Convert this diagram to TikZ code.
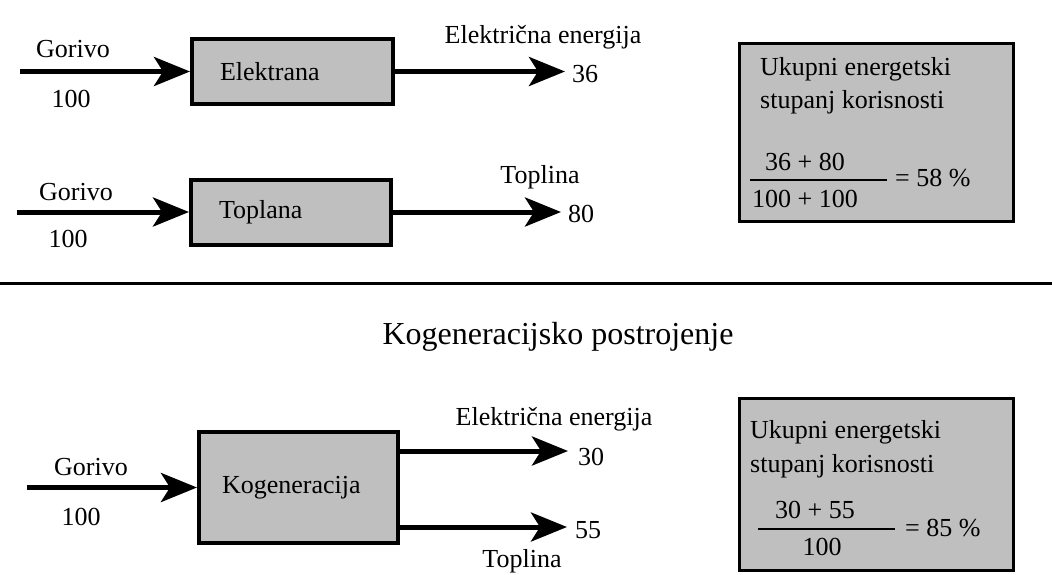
\documentclass[tikz,border=0pt]{standalone}
\usepackage{fontspec}
\setmainfont{Liberation Serif}
\usetikzlibrary{arrows.meta}
\definecolor{blokgrey}{HTML}{BFBFBF}

\begin{document}
\begin{tikzpicture}[x=1pt,y=-1pt,
  oznaka/.style={inner sep=0pt,font=\fontsize{26}{31}\selectfont},
  blok/.style={draw,line width=4pt,fill=blokgrey,align=left,inner ysep=0pt,font=\fontsize{26}{31}\selectfont},
  okvir/.style={draw,line width=3pt,fill=blokgrey,inner sep=0pt},
  tok/.style={line width=5pt,-{Stealth[length=36pt,width=29pt,inset=9pt]}}]
\useasboundingbox (0,0) rectangle (1052,574);
\node[blok,inner xsep=28pt,text width=145pt,minimum height=65pt] (elek) at (292.5,71.5) {Elektrana};
\node[blok,inner xsep=28pt,text width=144pt,minimum height=65pt] (topl) at (291,212) {Toplana};
\node[blok,inner xsep=23pt,text width=153pt,minimum height=111pt] (kog) at (298.5,487.5) {Kogeneracija};
\coordinate (p1) at (20,71.5);
\coordinate (p2) at (17,212);
\coordinate (p3) at (27,487.5);
\draw[tok] (p1) -- (elek.west);
\draw[tok] (p2) -- (topl.west);
\draw[tok] (p3) -- (kog.west);
\coordinate (k36) at (565,71.5);
\coordinate (k80) at (561,212);
\coordinate (k30) at (568,451);
\coordinate (k55) at (567,527);
\draw[tok] (elek.east) -- (k36);
\draw[tok] (topl.east) -- (k80);
\draw[tok] (kog.east |- k30) -- (k30);
\draw[tok] (kog.east |- k55) -- (k55);
\foreach \i/\gx/\gy/\sx/\sy in {1/73/57/71/107, 2/76/200/68/247, 3/91/475/81/525} {
 \node[oznaka,anchor=base] (gor\i) at (\gx,\gy) {Gorivo};
 \node[oznaka,anchor=base] (sto\i) at (\sx,\sy) {100};
}
\node[oznaka,anchor=base west] (n36) at (572,82) {36};
\node[oznaka,anchor=base west] (n80) at (568,222) {80};
\node[oznaka,anchor=base west] (n30) at (578,465) {30};
\node[oznaka,anchor=base west] (n55) at (575,538) {55};
\node[oznaka,anchor=base] (ee1) at (543,43) {Električna energija};
\node[oznaka,anchor=base] (tp1) at (540,183) {Toplina};
\node[oznaka,anchor=base] (ee2) at (554,425) {Električna energija};
\node[oznaka,anchor=base] (tp2) at (522,567) {Toplina};
\draw[line width=3pt] (0,283) -- (1052,283);
\node[oznaka,font=\fontsize{32}{38}\selectfont,anchor=base] (naslov) at (558,344) {Kogeneracijsko postrojenje};
\node[okvir,minimum width=274pt,minimum height=178pt] (ukup1) at (876.5,132.5) {};
\node[oznaka,anchor=base west] (uk1) at (760,75) {Ukupni energetski};
\node[oznaka,anchor=base west] (st1) at (760,108) {stupanj korisnosti};
\node[oznaka,anchor=base] (br1) at (805,170) {36 + 80};
\node[oznaka,anchor=base] (na1) at (805,207) {100 + 100};
\draw[line width=2pt] (750,180) -- (887,180);
\node[oznaka,anchor=base west] (rez1) at (895,186) {= 58 \%};
\node[okvir,minimum width=274pt,minimum height=172pt] (ukup2) at (876.5,484.5) {};
\node[oznaka,anchor=base west] (uk2) at (750,438) {Ukupni energetski};
\node[oznaka,anchor=base west] (st2) at (750,472) {stupanj korisnosti};
\node[oznaka,anchor=base] (br2) at (815,518) {30 + 55};
\node[oznaka,anchor=base] (na2) at (822,555) {100};
\draw[line width=2pt] (758,529) -- (895,529);
\node[oznaka,anchor=base west] (rez2) at (905,536) {= 85 \%};
\end{tikzpicture}
\end{document}
